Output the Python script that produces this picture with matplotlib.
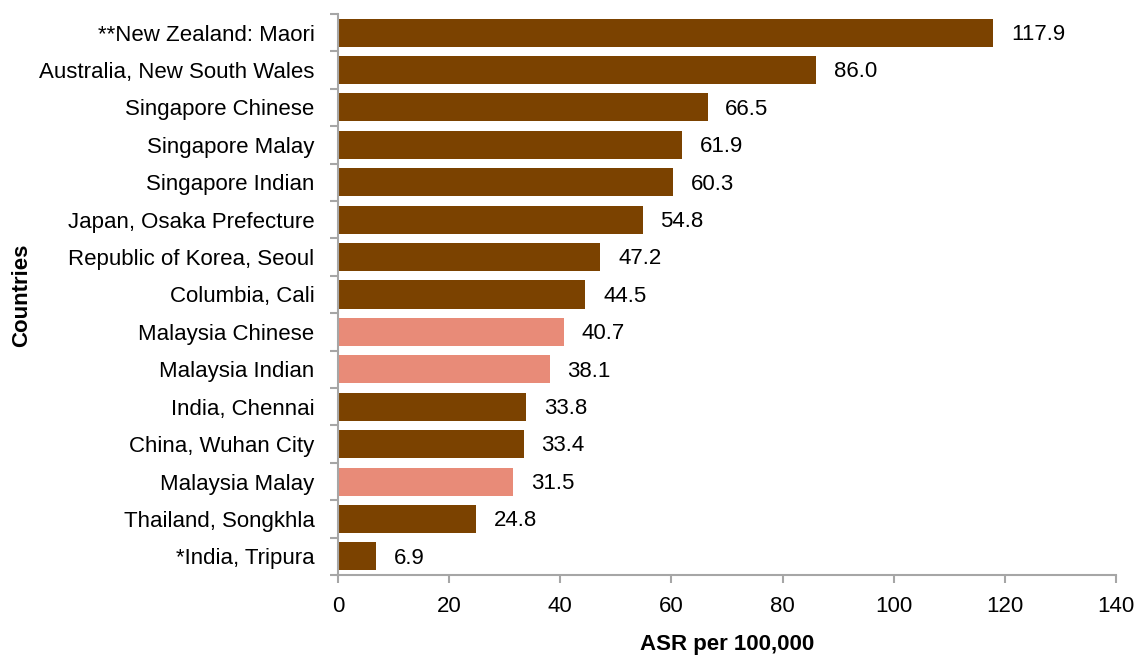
import numpy as np
import matplotlib.pyplot as plt

plt.rcParams['font.family'] = ['Liberation Sans', 'DejaVu Sans']

countries = ['**New Zealand: Maori', 'Australia, New South Wales', 'Singapore Chinese',
             'Singapore Malay', 'Singapore Indian', 'Japan, Osaka Prefecture',
             'Republic of Korea, Seoul', 'Columbia, Cali', 'Malaysia Chinese',
             'Malaysia Indian', 'India, Chennai', 'China, Wuhan City',
             'Malaysia Malay', 'Thailand, Songkhla', '*India, Tripura']
asr = [117.9, 86.0, 66.5, 61.9, 60.3, 54.8, 47.2, 44.5, 40.7, 38.1, 33.8, 33.4, 31.5, 24.8, 6.9]
malaysia = [False, False, False, False, False, False, False, False, True, True, False, False, True, False, False]

brown = '#7B4200'
salmon = '#E88B78'
grey = '#A6A6A6'
fs = 16

fig = plt.figure(figsize=(11.4, 6.61), dpi=100)
ax = fig.add_axes([0.2965, 0.13, 0.6825, 0.849])

y = np.arange(len(countries))
cols = [salmon if m else brown for m in malaysia]
ax.barh(y, asr, height=0.75, color=cols)
for yi, v in zip(y, asr):
    ax.text(v + 3.2, yi + 0.05, f'{v:.1f}', va='center', ha='left', fontsize=fs)

ax.set_ylim(len(countries) - 0.5, -0.5)
ax.set_xlim(0, 140)
ax.set_xticks(range(0, 141, 20))
ax.set_yticks(y)
ax.set_yticklabels(countries, fontsize=fs)
ax.set_yticks(np.arange(-0.5, len(countries), 1), minor=True)
ax.tick_params(axis='y', which='major', length=0, pad=17)
ax.tick_params(axis='y', which='minor', length=6, color=grey, width=1.5)
ax.tick_params(axis='x', length=6, color=grey, width=1.5, labelsize=fs, pad=9)

for s in ['top', 'right']:
    ax.spines[s].set_visible(False)
for s in ['left', 'bottom']:
    ax.spines[s].set_color(grey)
    ax.spines[s].set_linewidth(1.5)

ax.set_xlabel('ASR per 100,000', fontsize=fs, fontweight='bold', labelpad=12)
fig.text(0.019, 0.553, 'Countries', rotation=90, fontsize=fs, fontweight='bold',
         va='center', ha='center')

fig.savefig('out.png', dpi=100)
